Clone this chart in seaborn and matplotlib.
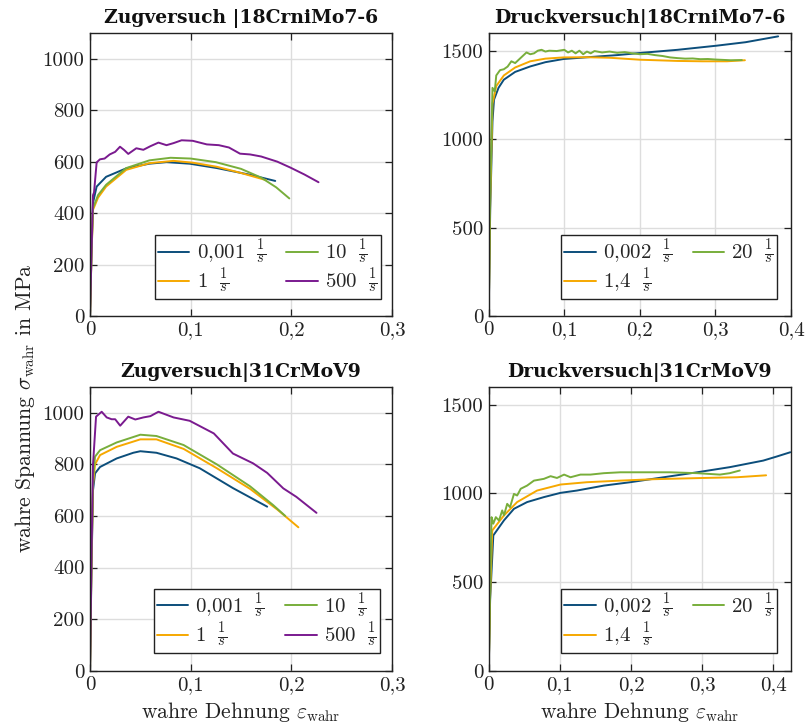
import numpy as np
import pandas as pd
import matplotlib
matplotlib.use("Agg")
import matplotlib.pyplot as plt
import seaborn as sns

# ---------------- data ----------------
# Zugversuch | 18CrNiMo7-6
tl_labels = ["0,001", "1", "10", "500"]
tl_x_0001 = [0, 0.0015, 0.003, 0.0066, 0.016, 0.036, 0.059, 0.076, 0.099, 0.126, 0.159, 0.184]
tl_y_0001 = [0, 250, 440, 503, 541, 574, 592, 598, 592, 575, 549, 525]
tl_x_1 = [0, 0.0015, 0.003, 0.008, 0.016, 0.036, 0.059, 0.083, 0.102, 0.126, 0.149, 0.175]
tl_y_1 = [0, 240, 413, 460, 503, 568, 594, 603, 596, 580, 557, 528]
tl_x_10 = [0, 0.0015, 0.003, 0.008, 0.016, 0.036, 0.059, 0.08, 0.1, 0.125, 0.15, 0.17, 0.185, 0.198]
tl_y_10 = [0, 240, 420, 470, 510, 575, 605, 615, 612, 598, 572, 538, 500, 457]
tl_x_500 = [0, 0.0015, 0.003, 0.004, 0.0066, 0.0099, 0.0145, 0.0196, 0.025, 0.0298, 0.034, 0.038,
            0.046, 0.053, 0.06, 0.068, 0.076, 0.083, 0.091, 0.102, 0.116, 0.128, 0.138, 0.149,
            0.159, 0.17, 0.186, 0.199, 0.213, 0.227]
tl_y_500 = [0, 250, 470, 480, 597, 609, 612, 628, 638, 658, 645, 630, 652, 646, 660, 674, 664,
            672, 683, 681, 667, 664, 655, 631, 628, 620, 600, 577, 550, 520]

# Druckversuch | 18CrNiMo7-6
tr_labels = ["0,002", "1,4", "20"]
tr_x_0002 = [0, 0.002, 0.005, 0.007, 0.013, 0.02, 0.035, 0.055, 0.075, 0.099, 0.134, 0.17, 0.2,
             0.25, 0.301, 0.34, 0.383]
tr_y_0002 = [0, 600, 1100, 1223, 1290, 1336, 1380, 1411, 1435, 1453, 1464, 1475, 1487, 1505,
             1528, 1548, 1581]
tr_x_14 = [0, 0.002, 0.005, 0.01, 0.02, 0.035, 0.055, 0.075, 0.099, 0.13, 0.16, 0.2, 0.25, 0.283,
           0.315, 0.339]
tr_y_14 = [0, 650, 1200, 1300, 1360, 1405, 1440, 1455, 1462, 1463, 1460, 1449, 1442, 1440, 1440,
           1446]
tr_x_20 = [0, 0.002, 0.005, 0.008, 0.01, 0.015, 0.02, 0.025, 0.03, 0.035, 0.04, 0.045, 0.05,
           0.055, 0.06, 0.065, 0.07, 0.075, 0.08, 0.09, 0.1, 0.105, 0.11, 0.115, 0.12, 0.125,
           0.13, 0.135, 0.14, 0.15, 0.16, 0.17, 0.18, 0.19, 0.2, 0.21, 0.22, 0.23, 0.24, 0.25,
           0.26, 0.27, 0.28, 0.29, 0.3, 0.31, 0.32, 0.335]
tr_y_20 = [0, 700, 1290, 1270, 1360, 1390, 1395, 1410, 1440, 1430, 1450, 1470, 1490, 1480, 1485,
           1500, 1505, 1495, 1500, 1498, 1505, 1490, 1500, 1485, 1500, 1480, 1495, 1485, 1498,
           1490, 1495, 1488, 1492, 1485, 1480, 1482, 1475, 1470, 1462, 1458, 1455, 1456, 1452,
           1453, 1450, 1448, 1446, 1447]

# Zugversuch | 31CrMoV9
bl_labels = ["0,001", "1", "10", "500"]
bl_x_0001 = [0, 0.0015, 0.003, 0.005, 0.01, 0.0265, 0.043, 0.05, 0.066, 0.086, 0.109, 0.142, 0.176]
bl_y_0001 = [0, 400, 700, 765, 790, 823, 845, 851, 845, 823, 785, 708, 636]
bl_x_1 = [0, 0.0015, 0.003, 0.005, 0.01, 0.0265, 0.05, 0.066, 0.093, 0.126, 0.159, 0.186, 0.207]
bl_y_1 = [0, 420, 720, 800, 836, 868, 897, 897, 860, 785, 705, 625, 556]
bl_x_10 = [0, 0.0015, 0.003, 0.005, 0.01, 0.0265, 0.05, 0.066, 0.093, 0.126, 0.159, 0.182, 0.194]
bl_y_10 = [0, 430, 740, 830, 855, 885, 915, 910, 875, 800, 715, 642, 600]
bl_x_500 = [0, 0.0015, 0.003, 0.006, 0.0116, 0.0166, 0.0215, 0.025, 0.03, 0.038, 0.045, 0.053,
            0.06, 0.068, 0.083, 0.099, 0.123, 0.142, 0.162, 0.176, 0.192, 0.205, 0.225]
bl_y_500 = [0, 450, 800, 985, 1004, 982, 975, 975, 950, 985, 974, 982, 987, 1004, 982, 969, 920,
            842, 804, 767, 707, 674, 612]

# Druckversuch | 31CrMoV9
br_labels = ["0,002", "1,4", "20"]
br_x_0002 = [0, 0.002, 0.0065, 0.0215, 0.0355, 0.054, 0.0776, 0.101, 0.124, 0.162, 0.199, 0.246,
             0.293, 0.339, 0.386, 0.405, 0.424]
br_y_0002 = [0, 400, 763, 848, 913, 951, 979, 1003, 1016, 1044, 1063, 1091, 1119, 1148, 1185,
             1208, 1232]
br_x_14 = [0, 0.002, 0.005, 0.0215, 0.04, 0.068, 0.101, 0.138, 0.185, 0.232, 0.302, 0.349, 0.39]
br_y_14 = [0, 420, 791, 876, 951, 1016, 1050, 1063, 1072, 1080, 1087, 1091, 1102]
br_x_20 = [0, 0.002, 0.004, 0.0065, 0.01, 0.0145, 0.019, 0.0215, 0.026, 0.03, 0.0355, 0.04, 0.045,
           0.054, 0.0636, 0.0776, 0.087, 0.096, 0.106, 0.115, 0.129, 0.143, 0.162, 0.185, 0.208,
           0.255, 0.293, 0.325, 0.339, 0.353]
br_y_20 = [0, 450, 866, 829, 866, 847, 904, 876, 941, 922, 997, 988, 1026, 1044, 1072, 1082,
           1097, 1087, 1106, 1091, 1106, 1106, 1114, 1119, 1119, 1119, 1114, 1106, 1114, 1129]

titles = ["Zugversuch |18CrniMo7-6", "Druckversuch|18CrniMo7-6",
          "Zugversuch|31CrMoV9", "Druckversuch|31CrMoV9"]
x_ticks_t = [0, 0.1, 0.2, 0.3]
x_ticklabels_t = ["0", "0,1", "0,2", "0,3"]
x_ticks_d = [0, 0.1, 0.2, 0.3, 0.4]
x_ticklabels_d = ["0", "0,1", "0,2", "0,3", "0,4"]
y_ticks_t = [0, 200, 400, 600, 800, 1000]
y_ticks_d = [0, 500, 1000, 1500]

c_blue = "#0c4e7b"
c_orange = "#f6a800"
c_green = "#78ae3b"
c_purple = "#7a1a8f"

# ---------------- style ----------------
sns.set_theme(style="ticks")
plt.rcParams["font.family"] = ["serif"]
plt.rcParams["font.serif"] = ["cmr10"]
plt.rcParams["mathtext.fontset"] = "cm"
plt.rcParams["axes.unicode_minus"] = False
plt.rcParams["axes.formatter.use_mathtext"] = True

fig = plt.figure(figsize=(8.08, 7.26), dpi=100)
W, H = 808, 726

def px_axes(l, t, r, b):
    return fig.add_axes([l / W, 1 - b / H, (r - l) / W, (b - t) / H])

ax_tl = px_axes(90, 33, 392, 316)
ax_tr = px_axes(488.7, 33, 791, 316)
ax_bl = px_axes(90, 387, 392, 670.7)
ax_br = px_axes(488.7, 387, 791, 670.7)

def frac(lbl):
    return lbl + r" $\hspace{0.3}\frac{1}{s}$"

def draw(ax, series, labels, colors):
    rows = []
    for (xs, ys), lb in zip(series, labels):
        rows.append(pd.DataFrame({"x": xs, "y": ys, "rate": frac(lb)}))
    df = pd.concat(rows, ignore_index=True)
    sns.lineplot(data=df, x="x", y="y", hue="rate", palette=colors, sort=False,
                 estimator=None, linewidth=1.4, ax=ax)

draw(ax_tl, [(tl_x_0001, tl_y_0001), (tl_x_1, tl_y_1), (tl_x_10, tl_y_10), (tl_x_500, tl_y_500)],
     tl_labels, [c_blue, c_orange, c_green, c_purple])
draw(ax_tr, [(tr_x_0002, tr_y_0002), (tr_x_14, tr_y_14), (tr_x_20, tr_y_20)],
     tr_labels, [c_blue, c_orange, c_green])
draw(ax_bl, [(bl_x_0001, bl_y_0001), (bl_x_1, bl_y_1), (bl_x_10, bl_y_10), (bl_x_500, bl_y_500)],
     bl_labels, [c_blue, c_orange, c_green, c_purple])
draw(ax_br, [(br_x_0002, br_y_0002), (br_x_14, br_y_14), (br_x_20, br_y_20)],
     br_labels, [c_blue, c_orange, c_green])

setups = [
    (ax_tl, (0, 0.3), (0, 1100), x_ticks_t, x_ticklabels_t, y_ticks_t, (0.964, 0.06)),
    (ax_tr, (0, 0.4), (0, 1600), x_ticks_d, x_ticklabels_d, y_ticks_d, (0.954, 0.06)),
    (ax_bl, (0, 0.3), (0, 1100), x_ticks_t, x_ticklabels_t, y_ticks_t, (0.96, 0.063)),
    (ax_br, (0, 0.425), (0, 1600), x_ticks_d, x_ticklabels_d, y_ticks_d, (0.954, 0.063)),
]
for (ax, xl, yl, xt, xtl, yt, anc), title in zip(setups, titles):
    ax.set_xlim(*xl)
    ax.set_ylim(*yl)
    ax.set_xticks(xt)
    ax.set_xticklabels(xtl)
    ax.set_yticks(yt)
    ax.set_yticklabels([str(v) for v in yt])
    ax.grid(True, color="#dddddd", linewidth=1.0)
    ax.set_axisbelow(True)
    ax.tick_params(direction="in", length=5, width=0.9, top=True, right=True,
                   labelsize=15, colors="#222222", pad=4)
    for s in ax.spines.values():
        s.set_visible(True)
        s.set_color("#222222")
        s.set_linewidth(1.0)
    ax.set_xlabel("")
    ax.set_ylabel("")
    ax.set_title(title, family="DejaVu Serif", fontweight="bold", fontsize=13.5,
                 pad=7, color="#111111")
    h, l = ax.get_legend_handles_labels()
    leg = ax.legend(h, l, ncol=2, loc="lower right", bbox_to_anchor=anc,
                    borderaxespad=0, fontsize=15, frameon=True, fancybox=False,
                    handlelength=1.5, handletextpad=0.35, columnspacing=1.0,
                    labelspacing=0.0, borderpad=0.15)
    leg.get_frame().set_edgecolor("#222222")
    leg.get_frame().set_linewidth(1.0)
    leg.get_frame().set_alpha(1)

for ax in (ax_bl, ax_br):
    ax.set_xlabel(r"wahre Dehnung $\varepsilon_\mathrm{wahr}$", fontsize=15.5, labelpad=4,
                  color="#222222")

fig.text(25 / W, 1 - 408 / H, r"wahre Spannung $\sigma_\mathrm{wahr}$ in MPa", rotation=90,
         ha="center", va="center", fontsize=15.5, color="#222222")

fig.savefig("out.png", dpi=100)
